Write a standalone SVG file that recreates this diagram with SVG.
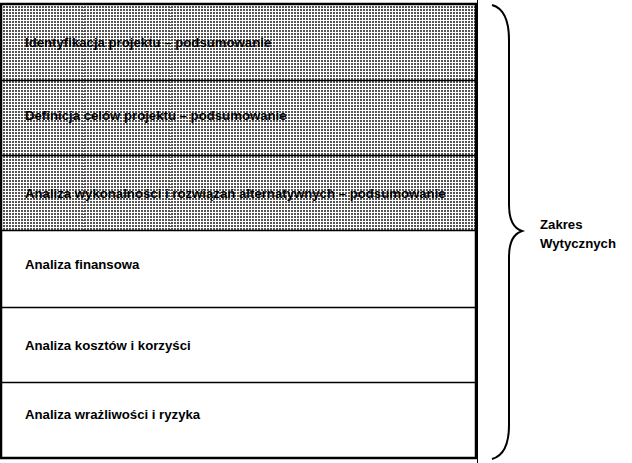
<svg xmlns="http://www.w3.org/2000/svg" width="632" height="463" viewBox="0 0 632 463">
<defs>
<pattern id="dots" width="3" height="3" patternUnits="userSpaceOnUse">
<rect width="3" height="3" fill="#ffffff"/>
<rect x="0" y="0" width="2" height="2" fill="#555555"/>
</pattern>
</defs>
<style>
.t{font-family:"Liberation Sans",Arial,sans-serif;font-size:13.2px;font-weight:bold;fill:#000}
.sep{stroke:#000;stroke-width:1.3}
.grid{stroke:#6a6a6a;stroke-width:1;stroke-dasharray:1 2}
</style>
<rect width="632" height="463" fill="#fff"/>
<g id="shaded-area">
<rect x="1" y="4" width="475" height="226" fill="url(#dots)"/>
<line class="grid" x1="83.5" y1="4" x2="83.5" y2="230"/>
<line class="grid" x1="170.5" y1="4" x2="170.5" y2="230"/>
<line class="grid" x1="253.5" y1="4" x2="253.5" y2="230"/>
<line class="grid" x1="340.5" y1="4" x2="340.5" y2="230"/>
<line class="grid" x1="427.5" y1="4" x2="427.5" y2="230"/>
</g>
<g id="row1"><text class="t" x="25" y="47">Identyfikacja projektu – podsumowanie</text></g>
<g id="row2"><text class="t" x="25" y="120">Definicja celów projektu – podsumowanie</text></g>
<g id="row3"><text class="t" x="25" y="198">Analiza wykonalności i rozwiązań alternatywnych – podsumowanie</text></g>
<g id="row4"><text class="t" x="25" y="269">Analiza finansowa</text></g>
<g id="row5"><text class="t" x="25" y="350">Analiza kosztów i korzyści</text></g>
<g id="row6"><text class="t" x="25" y="419">Analiza wrażliwości i ryzyka</text></g>
<g id="frame">
<line class="sep" x1="1" y1="80.5" x2="476" y2="80.5"/>
<line class="sep" x1="1" y1="155.5" x2="476" y2="155.5"/>
<line class="sep" x1="1" y1="230.5" x2="476" y2="230.5"/>
<line class="sep" x1="1" y1="307.5" x2="476" y2="307.5"/>
<line class="sep" x1="1" y1="382.5" x2="476" y2="382.5"/>
<rect x="1" y="4" width="475" height="454" fill="none" stroke="#000" stroke-width="2.5"/>
<line x1="477.5" y1="0" x2="477.5" y2="463" stroke="#000" stroke-width="1"/>
</g>
<g id="connectors">
<path d="M492,5 C503,8 509,20 509,40 L509,205 C509,220 513,228 522,231 C513,234 509,242 509,257 L509,425 C509,445 503,456 492,459" fill="none" stroke="#000" stroke-width="2"/>
</g>
<g id="label">
<text class="t" x="540" y="229">Zakres</text>
<text class="t" x="540" y="248">Wytycznych</text>
</g>
</svg>
